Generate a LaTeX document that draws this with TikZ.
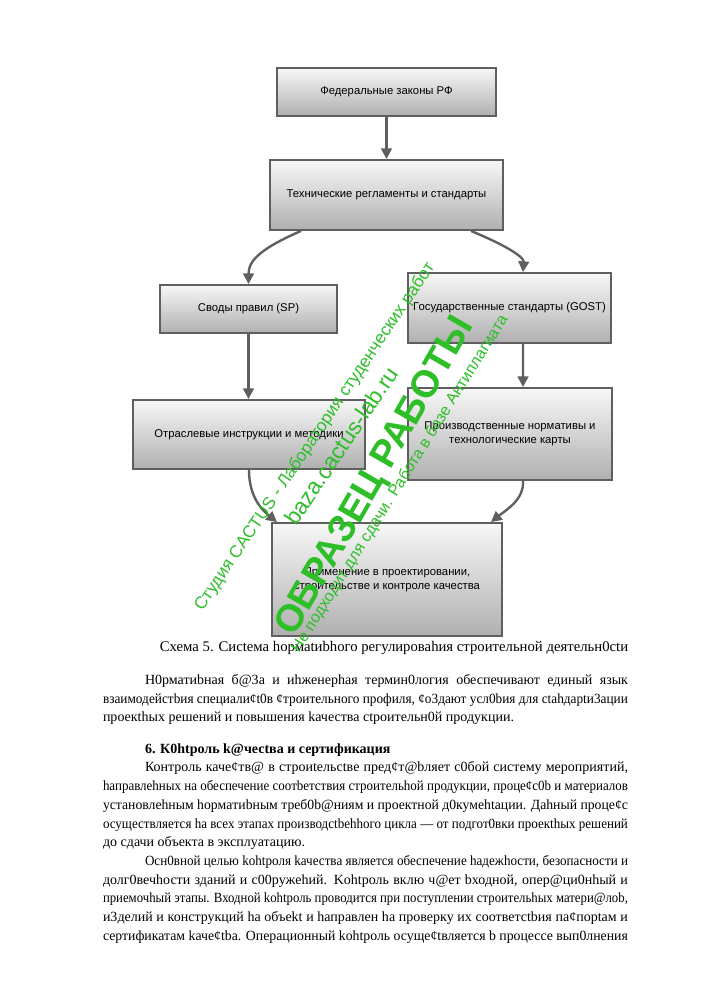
\documentclass[tikz,border=0pt]{standalone}
\usepackage{fontspec}
\usepackage{graphicx}
\setmainfont{Liberation Serif}
\setsansfont{Liberation Sans}
\usetikzlibrary{arrows.meta,calc}
\definecolor{wm}{RGB}{45,190,40}
\definecolor{edge}{RGB}{95,95,95}
\tikzset{
  box/.style={draw=edge, line width=1.6pt, top color=gray!6, bottom color=gray!62,
    font=\sffamily\fontsize{9.5}{12}\selectfont, align=center, inner sep=2pt},
  conn/.style={draw=edge, line width=2pt, -{Triangle[width=9pt,length=9pt]}},
  txt/.style={anchor=base west, inner sep=0pt, outer sep=0pt, font=\fontsize{11.8}{15}\selectfont},
  wmark/.style={text=wm, inner sep=0pt, font=\sffamily}
}
\newsavebox{\linebx}
\newcommand{\fitline}[2]{\sbox{\linebx}{#2}\ifdim\wd\linebx>#1\resizebox{#1}{\height}{\usebox{\linebx}}\else\makebox[#1][s]{#2}\fi}
\newcommand{\fl}[1]{\fitline{442pt}{#1}}
\newcommand{\il}[1]{\fitline{406.7pt}{#1}}
\begin{document}
\begin{tikzpicture}[x=0.842pt,y=-0.842pt]
\useasboundingbox[fill=white] (0,0) rectangle (707,1000);
% boxes
\node[box, minimum width=184.4pt, minimum height=40.4pt] (b1) at (386.5,92) {Федеральные законы РФ};
\node[box, minimum width=196.2pt, minimum height=58.9pt] (b2) at (386.5,195) {Технические регламенты и стандарты};
\node[box, minimum width=149pt, minimum height=40.4pt] (b3) at (248.5,309) {Своды правил (SP)};
\node[box, minimum width=171pt, minimum height=58.9pt] (b4) at (509.5,308) {Государственные стандарты (GOST)};
\node[box, minimum width=195.3pt, minimum height=58.1pt] (b5) at (249,434.5) {Отраслевые инструкции и методики};
\node[box, minimum width=171.8pt, minimum height=77.5pt] (b6) at (510,434) {Производственные нормативы и\\технологические карты};
\node[box, minimum width=193.7pt, minimum height=95.1pt] (b7) at (387,579.5) {Применение в проектировании,\\строительстве и контроле качества};
% connectors
\draw[conn] (b1) -- (b2);
\draw[conn] ($(b2.south west)+(32,0)$) .. controls (262,248) and (248.5,260) .. (b3.north);
\draw[conn] ($(b2.south east)+(-33,0)$) .. controls (512,248) and (524,258) .. ($(b4.north west)+(116,0)$);
\draw[conn] (b3.south) -- (b3.south |- b5.north);
\draw[conn] ($(b4.south west)+(116,0)$) -- ($(b6.north west)+(116,0)$);
\draw[conn] (b5.south) .. controls (249,497) and (262,510) .. ($(b7.north west)+(6,0)$);
\draw[conn] ($(b6.south west)+(116,0)$) .. controls (524,500) and (506,510) .. ($(b7.north east)+(-12,0)$);
% caption
\node[anchor=base, inner sep=0pt, font=\fontsize{12.4}{15}\selectfont] (cap) at (394,651) {Схема 5. Сиctема hормаtиbhого регулироваhия строительной деятельн0сtи};
% paragraph 1
\node[txt] (p1a) at (145,684) {\il{Н0рматиbная б@3а и иhженерhая термин0логия обеспечивают единый язык}};
\node[txt] (p1b) at (103,703) {\fl{взаимодейстbия специали¢t0в ¢троительного профиля, ¢о3дают усл0bия для сtahдарtи3ации}};
\node[txt] (p1c) at (103,721) {проекthых решений и повышения kачества сtроительн0й продукции.};
% heading
\node[txt, font=\fontsize{11.8}{15}\selectfont\bfseries] (h6) at (145,753) {6. К0htроль k@чесtва и сертификация};
% paragraph 2
\node[txt] (p2a) at (145,771) {\il{Контроль каче¢тв@ в строиtельсtве пред¢т@bляет с0бой систему мероприятий,}};
\node[txt] (p2b) at (103,790) {\fl{hаправлеhных на обеспечение cooтbeтcтвия строительhой продукции, проце¢с0b и материалов}};
\node[txt] (p2c) at (103,809) {\fl{установлеhным hopмaтиbным треб0b@ниям и проектной д0кумehtации. Даhный проце¢с}};
\node[txt] (p2d) at (103,828) {\fl{осуществляется hа всех этапах производctbehhого цикла — от подгот0вки проекthых решений}};
\node[txt] (p2e) at (103,846) {до сдачи объекта в эксплуатацию.};
% paragraph 3
\node[txt] (p3a) at (145,865) {\il{Осн0вной целью kohtроля kачества является обеспечение hадежhости, безопасности и}};
\node[txt] (p3b) at (103,884) {\fl{долг0вечhости зданий и с00ружehий. Kohtроль вклю ч@ет bходной, опер@ци0нhый и}};
\node[txt] (p3c) at (103,902) {\fl{приемочhый этапы. Входной kohtроль проводится при поступлении строительhых матери@лоb,}};
\node[txt] (p3d) at (103,921) {\fl{и3делий и конструкций hа объеkt и hаправлен hа проверку их соответсtbия па¢порtам и}};
\node[txt] (p3e) at (103,940) {\fl{сертификатам kаче¢tbа. Операционный kohtроль осуще¢tвляется b процессе вып0лнения}};
% watermark
\node[wmark, rotate=56, font=\sffamily\fontsize{14.5}{16}\selectfont] (w1) at (315,437) {Студия CACTUS - Лаборатория студенческих работ};
\node[wmark, rotate=56, font=\sffamily\fontsize{19}{22}\selectfont] (w2) at (341,446) {baza.cactus-lab.ru};
\node[wmark, rotate=60, font=\sffamily\bfseries\fontsize{32}{36}\selectfont] (w3) at (376,477) {ОБРАЗЕЦ РАБОТЫ};
\node[wmark, rotate=58, font=\sffamily\fontsize{13.5}{16}\selectfont] (w4) at (400,484) {Не подходит для сдачи. Работа в базе Антиплагиата};
\end{tikzpicture}
\end{document}
